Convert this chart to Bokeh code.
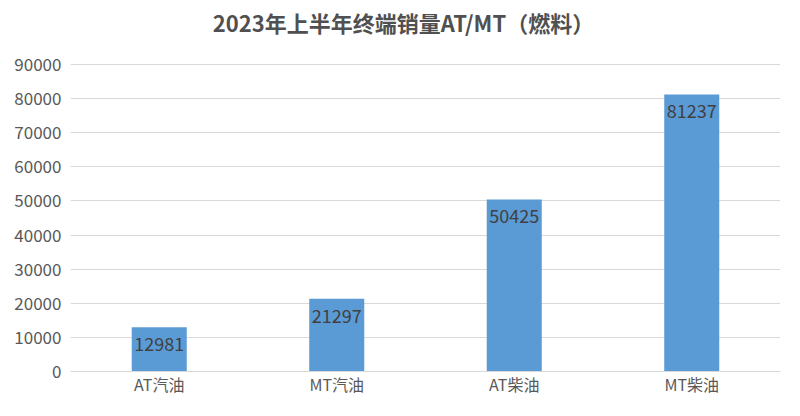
from bokeh.plotting import figure
from bokeh.models import ColumnDataSource, FixedTicker, NumeralTickFormatter, Range1d, Label
from bokeh.core.properties import value
from bokeh.embed import file_html
from bokeh.resources import INLINE

title_text = "2023年上半年终端销量AT/MT（燃料）"
categories = ["AT汽油", "MT汽油", "AT柴油", "MT柴油"]
sales = [12981, 21297, 50425, 81237]
y_ticks = [0, 10000, 20000, 30000, 40000, 50000, 60000, 70000, 80000, 90000]

FONT = "Noto Sans CJK SC"

W, H = 784, 400
BORDER_BOTTOM = 29
AXIS_TOP_PX = 64          # pixel row where the 90000 gridline sits
frame_h = H - BORDER_BOTTOM
y_top = y_ticks[-1] * frame_h / (frame_h - AXIS_TOP_PX)

src = ColumnDataSource(dict(cat=categories, val=sales, lab=[str(v) for v in sales]))

p = figure(width=W, height=H, x_range=categories, y_range=Range1d(0, y_top),
           output_backend="svg", toolbar_location=None,
           min_border_left=70, min_border_right=4, min_border_top=0,
           min_border_bottom=BORDER_BOTTOM)

title = Label(x=333, y=frame_h - 21, x_units="screen", y_units="screen", text=title_text,
              text_align="center", text_baseline="middle", text_font=FONT,
              text_font_size="22px", text_font_style="bold", text_color="#505050")
p.add_layout(title)

p.vbar(x="cat", top="val", width=0.31, source=src, color="#5B9BD5", line_color=None)
p.text(x="cat", y="val", text="lab", source=src, text_align="center", text_baseline="top",
       y_offset=10, text_font=value(FONT), text_font_size="18px", text_color="#404040")

p.yaxis.ticker = FixedTicker(ticks=y_ticks)
p.yaxis.formatter = NumeralTickFormatter(format="0")
p.yaxis.axis_line_color = None
p.yaxis.major_tick_line_color = None
p.yaxis.minor_tick_line_color = None
p.yaxis.major_label_text_font = FONT
p.yaxis.major_label_text_font_size = "17px"
p.yaxis.major_label_text_color = "#595959"
p.yaxis.major_label_standoff = 3

p.xaxis.axis_line_color = "#D9D9D9"
p.xaxis.major_tick_line_color = None
p.xaxis.minor_tick_line_color = None
p.xaxis.major_label_text_font = FONT
p.xaxis.major_label_text_font_size = "16px"
p.xaxis.major_label_text_color = "#595959"
p.xaxis.major_label_standoff = -6

p.xgrid.grid_line_color = None
p.ygrid.grid_line_color = "#D9D9D9"
p.ygrid.ticker = FixedTicker(ticks=y_ticks)

p.outline_line_color = None
p.border_fill_color = "white"
p.background_fill_color = "white"

open("out.html", "w").write(file_html(p, INLINE))
